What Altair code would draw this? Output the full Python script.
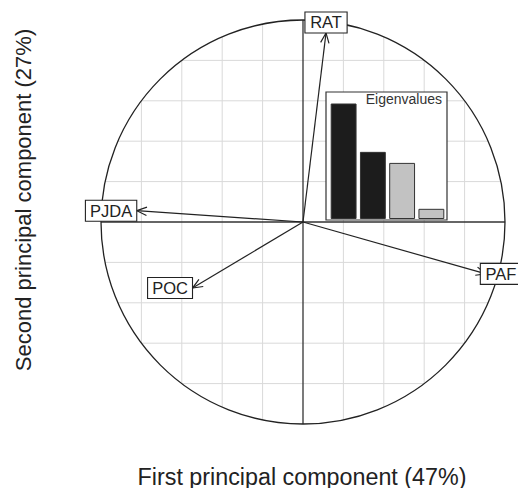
import altair as alt
import numpy as np
import pandas as pd

# ---------------- data ----------------
variables = ["RAT", "PJDA", "POC", "PAF"]
pc1 = [0.114, -0.823, -0.547, 0.906]
pc2 = [0.936, 0.056, -0.327, -0.257]
eig_axis = [1, 2, 3, 4]
eigenvalues = [1.87, 1.08, 0.90, 0.15]
grid_ticks = [-0.8, -0.6, -0.4, -0.2, 0.2, 0.4, 0.6, 0.8]
x_title = "First principal component (47%)"
y_title = "Second principal component (27%)"
inset_title = "Eigenvalues"

# ---------------- layout / style ----------------
W, H = 510, 480
CX, CY, R = 295, 214, 202
FONT = "Liberation Sans"
INK = "#222222"
GRID = "#d9d9d9"
LABEL_SIZE = 16.5

xs = alt.Scale(domain=[(0 - CX) / R, (W - CX) / R], nice=False, zero=False)
ys = alt.Scale(domain=[(CY - H) / R, CY / R], nice=False, zero=False)

# Arial advance widths (em) for label box sizing
ARIAL = {" ": 0.278, "A": 0.667, "C": 0.722, "D": 0.722, "F": 0.611, "J": 0.5,
         "O": 0.778, "P": 0.667, "R": 0.722, "T": 0.611}

arr = pd.DataFrame({"var": variables, "u": pc1, "v": pc2})
arr["u0"] = 0.0
arr["v0"] = 0.0
arr["ang"] = (np.degrees(np.arctan2(-arr["v"], arr["u"])) % 360)

# ade4-like label placement (box edge touches the arrow tip),
# nudged inwards only if the text itself would leave the canvas
lx, ly, bx0, bx1, by0, by1 = [], [], [], [], [], []
yh = 10.5 / R
x_limit = (W - 1 - CX) / R
for lab, x, y in zip(variables, pc1, pc2):
    tw = sum(ARIAL.get(c, 0.6) for c in lab) * LABEL_SIZE / R
    xh = sum(ARIAL.get(c, 0.6) for c in " " + lab + " ") * LABEL_SIZE / R
    if x > y and x > -y:
        cx, cy = x + xh / 2, y
    elif x > y and x <= -y:
        cx, cy = x, y - yh
    elif x <= y and x <= -y:
        cx, cy = x - xh / 2, y
    else:
        cx, cy = x, y + yh
    cx = min(cx, x_limit - tw / 2)
    lx.append(cx); ly.append(cy)
    bx0.append(cx - xh / 2); bx1.append(cx + xh / 2)
    by0.append(cy - yh); by1.append(cy + yh)
arr["lx"], arr["ly"] = lx, ly
arr["bx0"], arr["bx1"], arr["by0"], arr["by1"] = bx0, bx1, by0, by1

grid_df = pd.DataFrame({"g": grid_ticks})
axes_df = pd.DataFrame({"g": [0.0]})
center_df = pd.DataFrame({"u": [0.0], "v": [0.0]})
eig_df = pd.DataFrame({"k": eig_axis, "eig": eigenvalues})
one = pd.DataFrame({"a": [0]})

chord = {"h": "sqrt(1 - datum.g * datum.g)", "nh": "-sqrt(1 - datum.g * datum.g)"}


def vlines(df, color, width):
    return alt.Chart(df).mark_rule(color=color, strokeWidth=width).transform_calculate(**chord).encode(
        x=alt.X("g:Q", scale=xs, axis=None),
        y=alt.Y("nh:Q", scale=ys, axis=None),
        y2="h:Q",
    )


def hlines(df, color, width):
    return alt.Chart(df).mark_rule(color=color, strokeWidth=width).transform_calculate(**chord).encode(
        y=alt.Y("g:Q", scale=ys, axis=None),
        x=alt.X("nh:Q", scale=xs, axis=None),
        x2="h:Q",
    )


circle = alt.Chart(center_df).mark_point(
    shape="circle", size=(2 * R) ** 2, filled=False, stroke=INK, strokeWidth=1.3, opacity=1
).encode(x=alt.X("u:Q", scale=xs, axis=None), y=alt.Y("v:Q", scale=ys, axis=None))

shafts = alt.Chart(arr).mark_rule(color=INK, strokeWidth=1.2).encode(
    x=alt.X("u0:Q", scale=xs, axis=None), y=alt.Y("v0:Q", scale=ys, axis=None),
    x2="u:Q", y2="v:Q",
)

heads = alt.Chart(arr).mark_point(
    shape="M -1 -0.42 L 0 0 L -1 0.42", size=400, filled=False, stroke=INK,
    strokeWidth=1.2, opacity=1,
).encode(
    x=alt.X("u:Q", scale=xs, axis=None), y=alt.Y("v:Q", scale=ys, axis=None),
    angle=alt.Angle("ang:Q", scale=None),
)

boxes = alt.Chart(arr).mark_rect(fill="white", stroke=INK, strokeWidth=1.1).encode(
    x=alt.X("bx0:Q", scale=xs, axis=None), x2="bx1:Q",
    y=alt.Y("by0:Q", scale=ys, axis=None), y2="by1:Q",
)

labels = alt.Chart(arr).mark_text(
    font=FONT, fontSize=LABEL_SIZE, color=INK, align="center", baseline="middle", dy=1
).encode(
    x=alt.X("lx:Q", scale=xs, axis=None), y=alt.Y("ly:Q", scale=ys, axis=None), text="var:N"
)

main = alt.layer(
    vlines(grid_df, GRID, 1), hlines(grid_df, GRID, 1),
    vlines(axes_df, "#333333", 1.3), hlines(axes_df, "#333333", 1.3),
    circle, shafts, heads, boxes, labels,
)

# ---- eigenvalue inset ----
frame = alt.Chart(one).mark_rect(fill="white", stroke="#333333", strokeWidth=1.2).encode(
    x=alt.value(318), x2=alt.value(439), y=alt.value(84), y2=alt.value(212)
)

bars = alt.Chart(eig_df).mark_bar(stroke="#333333", strokeWidth=1).encode(
    x=alt.X("k:O", axis=None,
            scale=alt.Scale(range=[321, 438], paddingInner=0.15, paddingOuter=0.075)),
    y=alt.Y("eig:Q", axis=None,
            scale=alt.Scale(domain=[0, max(eigenvalues)], range=[210.5, 96], nice=False, zero=True)),
    color=alt.condition(alt.datum.k <= 2, alt.value("#1c1c1c"), alt.value("#c2c2c2")),
)

inset_lbl = alt.Chart(one).mark_text(
    text=inset_title, font=FONT, fontSize=14, color="#333333", align="right", baseline="alphabetic"
).encode(x=alt.value(434), y=alt.value(96))

xt = alt.Chart(one).mark_text(
    text=x_title, font=FONT, fontSize=23.3, color=INK, align="center", baseline="alphabetic"
).encode(x=alt.value(294), y=alt.value(476.5))

yt = alt.Chart(one).mark_text(
    text=y_title, font=FONT, fontSize=22, color=INK, align="center", baseline="alphabetic", angle=270
).encode(x=alt.value(23), y=alt.value(192))

chart = alt.layer(main, frame, bars, inset_lbl, xt, yt).resolve_scale(
    x="independent", y="independent"
).properties(
    width=W, height=H, autosize=alt.AutoSizeParams(type="none"), padding=0, background="white"
).configure_view(stroke=None)

chart.save("out.html", embed_options={"renderer": "svg", "actions": False})
